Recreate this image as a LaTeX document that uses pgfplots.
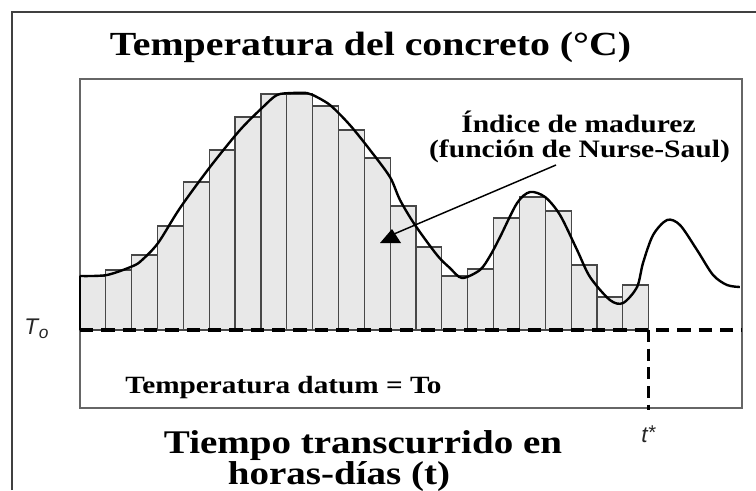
\documentclass[border=0pt]{standalone}
\usepackage{pgfplots}
\pgfplotsset{compat=1.18}
\usepackage{fontspec}
\setmainfont{Liberation Serif}
\newfontfamily\bser[FakeStretch=1.18]{Liberation Serif}
\newfontfamily\sansit{Liberation Sans}
\usetikzlibrary{arrows.meta}
\begin{document}
\begin{tikzpicture}
\path[use as bounding box] (0pt,0pt) rectangle (567pt,-367.5pt);
\begin{axis}[
  at={(60pt,-306pt)}, anchor=south west,
  width=496.5pt, height=246.75pt, scale only axis,
  xmin=0, xmax=25.61, ymin=-78, ymax=251,
  xtick=\empty, ytick=\empty,
  axis line style={draw=black!60, line width=0.9pt},
  clip=false,
]
% bars (ybar interval: last point closes the last bar)
\addplot[ybar interval, fill=black!9, draw=black!72, line width=0.9pt] coordinates {
(0,54) (1,60) (2,75) (3,104) (4,148) (5,180) (6,213) (7,236) (8,236) (9,224)
(10,200) (11,172) (12,124) (13,83) (14,54) (15,61) (16,112) (17,133) (18,119)
(19,65) (20,33) (21,45) (22,45)};
% datum line
\addplot[black, line width=2.4pt, dash pattern=on 10pt off 6pt] coordinates {(0,0) (25.61,0)};
\addplot[black, line width=2.4pt, dash pattern=on 9pt off 5pt] coordinates {(22,0) (22,-80)};
% temperature curve
\addplot[black, line width=1.8pt] coordinates {(0,0) (0,54)};
\addplot[black, line width=1.8pt, smooth, tension=0.5] coordinates {
(0,54) (1.04,55) (2.05,64) (2.40,70) (3.02,87) (3.87,122) (5.03,163) (6.19,200)
(7.08,223) (7.62,235) (8.20,237) (8.78,237) (9.01,235) (9.67,225) (10.44,205)
(11.22,180) (11.99,153) (12.38,130) (12.96,105) (13.81,75) (14.31,62) (14.78,52)
(15.47,60) (15.86,74) (16.25,93) (16.91,127) (17.41,138) (17.99,133) (18.57,115)
(19.23,80) (19.73,53) (20.50,30) (21.01,27) (21.55,43) (21.78,67) (22.17,95)
(22.71,110) (23.21,105) (23.87,80) (24.49,55) (25.03,45) (25.53,43)};
\end{axis}
\begin{scope}[x=0.75pt, y=-0.75pt]
% outer frame
\draw[black!75, line width=1.1pt] (12,490) -- (12,12) -- (756,12);
% title
\node[anchor=base, inner sep=0pt] at (370.5,55) {\bser\bfseries\fontsize{25.3pt}{28pt}\selectfont Temperatura del concreto (°C)};
% annotation
\node[anchor=base, inner sep=0pt] at (578.5,132) {\bser\bfseries\fontsize{18.8pt}{22pt}\selectfont Índice de madurez};
\node[anchor=base, inner sep=0pt] at (579.5,157) {\bser\bfseries\fontsize{18.8pt}{22pt}\selectfont (función de Nurse-Saul)};
\draw[black, line width=1.1pt] (556,165) -- (394,234);
\fill[black] (380,243) -- (401,243) -- (392,229) -- cycle;
% datum label
\node[anchor=base, inner sep=0pt] at (283.5,393) {\bser\bfseries\fontsize{18.6pt}{22pt}\selectfont Temperatura datum = To};
% x label
\node[anchor=base, inner sep=0pt] at (363,453) {\bser\bfseries\fontsize{24.8pt}{28pt}\selectfont Tiempo transcurrido en};
\node[anchor=base, inner sep=0pt] at (339,484) {\bser\bfseries\fontsize{24.8pt}{28pt}\selectfont horas-días (t)};
% T_o and t*
\node[anchor=base west, inner sep=0pt, text=black!85] at (24,334) {\sansit\itshape\fontsize{17pt}{19pt}\selectfont T\kern0.5pt\raisebox{-3pt}{\fontsize{13pt}{14pt}\selectfont o}};
\node[anchor=base west, inner sep=0pt, text=black!85] at (641,442) {\sansit\itshape\fontsize{17pt}{19pt}\selectfont t\raisebox{2pt}{\fontsize{15pt}{16pt}\selectfont *}};
\end{scope}
\end{tikzpicture}
\end{document}
